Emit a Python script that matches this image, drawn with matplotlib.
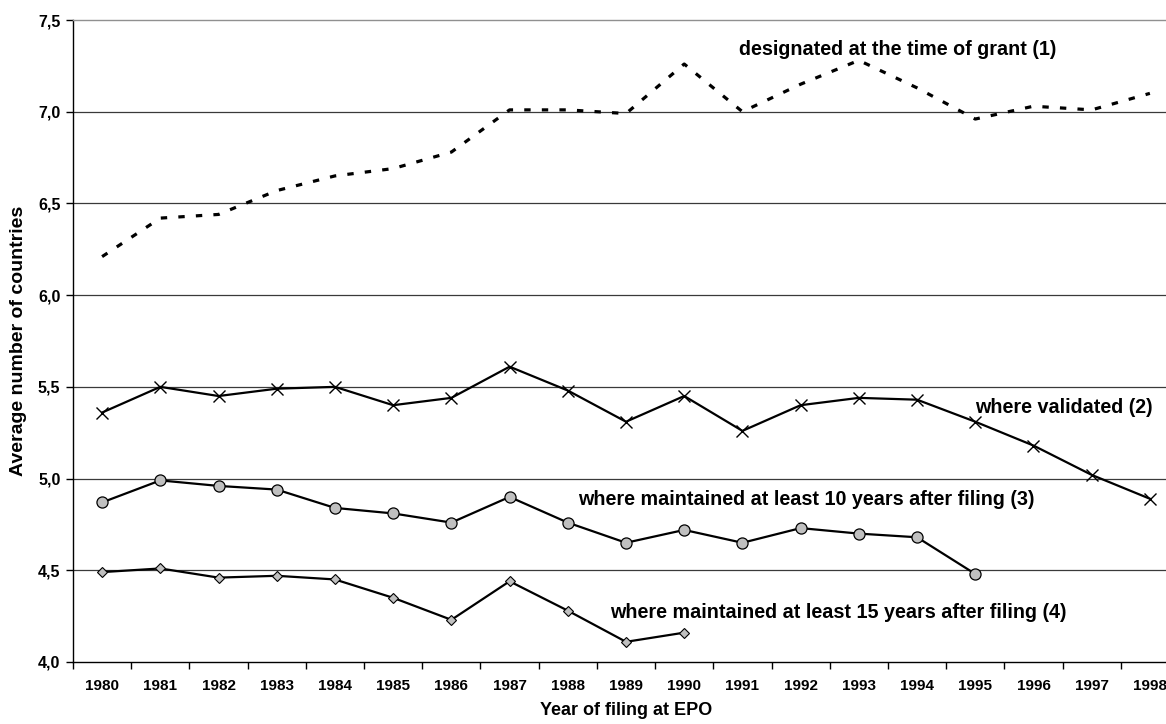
import matplotlib
matplotlib.use("Agg")
import matplotlib.pyplot as plt
from matplotlib.ticker import FixedLocator, FuncFormatter

plt.rcParams['font.family'] = 'Liberation Sans'
plt.rcParams['font.weight'] = 'bold'
plt.rcParams['axes.labelweight'] = 'bold'

years = [str(y) for y in range(1980, 1999)]

# (1) designated at the time of grant
designated = [6.21, 6.42, 6.44, 6.57, 6.65, 6.69, 6.78, 7.01, 7.01, 6.99,
              7.26, 7.00, 7.15, 7.28, 7.13, 6.96, 7.03, 7.01, 7.10]
# (2) where validated
validated = [5.36, 5.50, 5.45, 5.49, 5.50, 5.40, 5.44, 5.61, 5.48, 5.31,
             5.45, 5.26, 5.40, 5.44, 5.43, 5.31, 5.18, 5.02, 4.89]
# (3) maintained at least 10 years
maint10 = [4.87, 4.99, 4.96, 4.94, 4.84, 4.81, 4.76, 4.90, 4.76, 4.65,
           4.72, 4.65, 4.73, 4.70, 4.68, 4.48]
# (4) maintained at least 15 years
maint15 = [4.49, 4.51, 4.46, 4.47, 4.45, 4.35, 4.23, 4.44, 4.28, 4.11, 4.16]

fig = plt.figure(figsize=(11.66, 7.24), dpi=100)
ax = fig.add_axes([73 / 1166, 62 / 724, 1106 / 1166, 642 / 724])

ax.plot(range(len(designated)), designated, color='black', lw=2.3,
        linestyle=(0, (2, 3.5)), dash_capstyle='butt', zorder=3)
ax.plot(range(len(validated)), validated, color='black', lw=1.6,
        marker='x', markersize=9, markeredgewidth=1.0, zorder=3)
ax.plot(range(len(maint10)), maint10, color='black', lw=1.6,
        marker='o', markersize=8, markerfacecolor='#c0c0c0',
        markeredgecolor='black', markeredgewidth=0.9, zorder=3)
ax.plot(range(len(maint15)), maint15, color='black', lw=1.6,
        marker='D', markersize=5.5, markerfacecolor='#c0c0c0',
        markeredgecolor='black', markeredgewidth=0.8, zorder=3)

ax.set_xlim(-0.5, 18.5)
ax.set_ylim(4.0, 7.5)

# y axis
ax.yaxis.set_major_locator(FixedLocator([4.0, 4.5, 5.0, 5.5, 6.0, 6.5, 7.0, 7.5]))
ax.yaxis.set_major_formatter(FuncFormatter(lambda v, p: f"{v:.1f}".replace('.', ',')))
ax.tick_params(axis='y', direction='out', length=5, width=1, labelsize=11.5, pad=4)
for v in [4.5, 5.0, 5.5, 6.0, 6.5, 7.0]:
    ax.axhline(v, color='#3a3a3a', lw=0.9, zorder=1)

# x axis: ticks between categories, labels at the centres
ax.xaxis.set_major_locator(FixedLocator([i - 0.5 for i in range(20)]))
ax.xaxis.set_major_formatter(FuncFormatter(lambda v, p: ''))
ax.xaxis.set_minor_locator(FixedLocator(range(len(years))))
ax.set_xticklabels(years, minor=True)
ax.tick_params(axis='x', which='major', direction='out', length=5, width=1)
ax.tick_params(axis='x', which='minor', length=0, labelsize=11, pad=12)

for s in ['left', 'bottom']:
    ax.spines[s].set_color('black')
    ax.spines[s].set_linewidth(1.0)
ax.spines['top'].set_color('#909090')
ax.spines['top'].set_linewidth(1.0)
ax.spines['right'].set_visible(False)

ax.set_xlabel('Year of filing at EPO', fontsize=13, labelpad=7)
ax.set_ylabel('Average number of countries', fontsize=14, labelpad=8)

# series labels
ax.text(13.66, 7.34, 'designated at the time of grant (1)', ha='center',
        va='center', fontsize=14.2)
ax.text(18.04, 5.39, 'where validated (2)', ha='right', va='center',
        fontsize=14.2)
ax.text(8.18, 4.886, 'where maintained at least 10 years after filing (3)',
        ha='left', va='center', fontsize=14.2)
ax.text(8.73, 4.27, 'where maintained at least 15 years after filing (4)',
        ha='left', va='center', fontsize=14.2)

fig.savefig('out.png', dpi=100)
